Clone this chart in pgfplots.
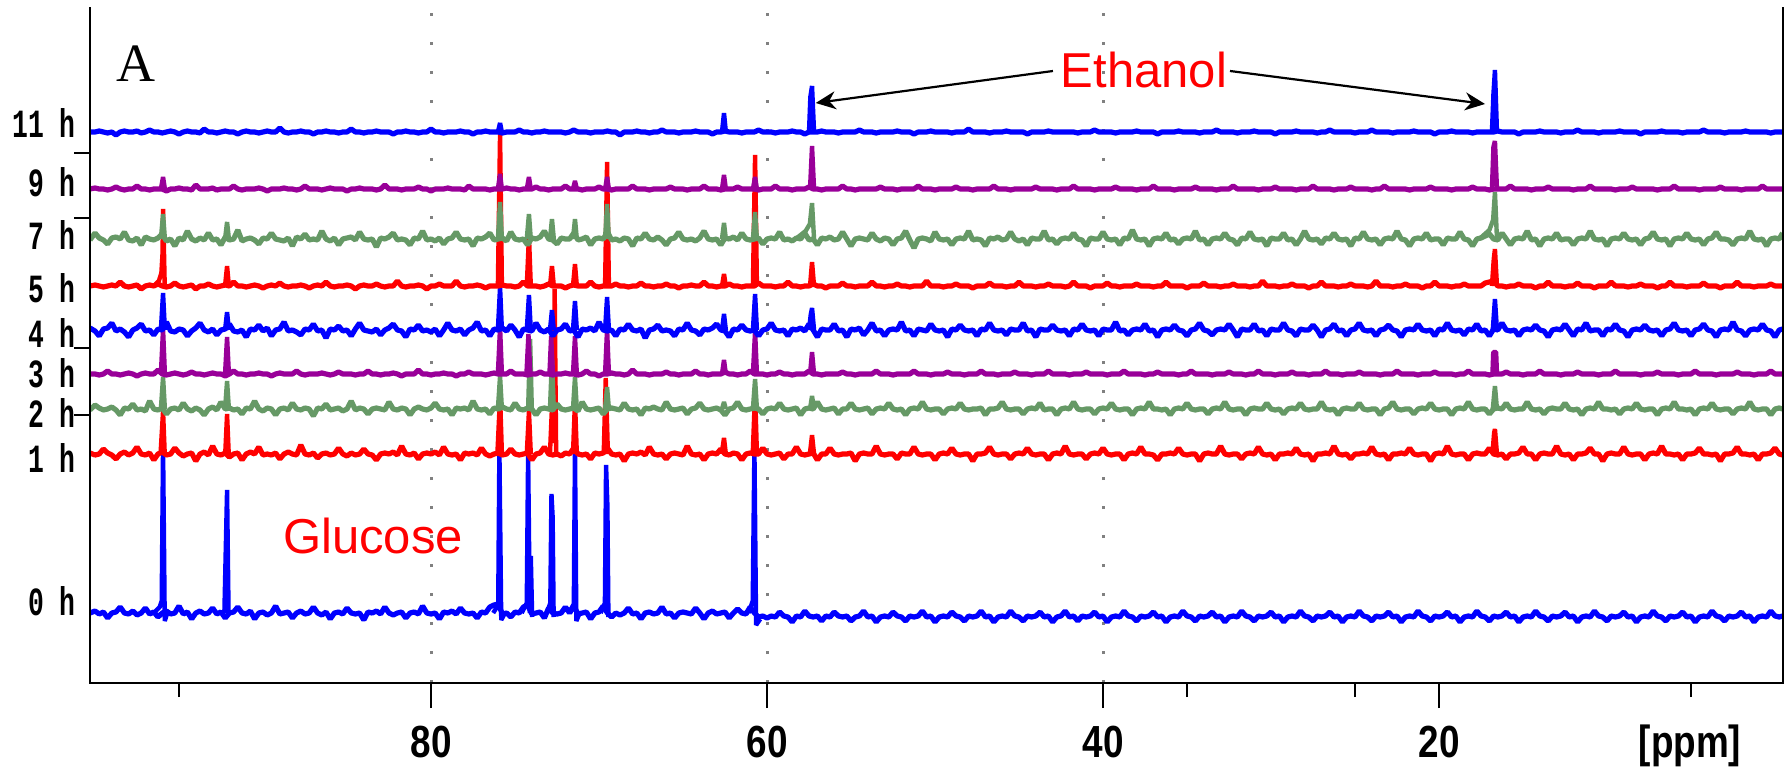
\documentclass[border=0pt]{standalone}
\usepackage{fontspec}
\setmainfont{Liberation Sans}
\newfontfamily\ticksans{Liberation Sans}[FakeStretch=0.82]
\newfontfamily\labmono{Liberation Mono}[FakeStretch=0.66]
\newfontfamily\serifA{Liberation Serif}
\usepackage{pgfplots}
\usepackage{pgfplotstable}
\pgfplotsset{compat=1.18}
\usetikzlibrary{arrows.meta}
\definecolor{tblue}{RGB}{0,0,255}
\definecolor{tred}{RGB}{255,0,0}
\definecolor{tpurple}{RGB}{153,0,153}
\definecolor{tgreen}{RGB}{102,153,102}
\definecolor{gridgray}{RGB}{128,128,128}

% noise of each spectrum, px offset from its baseline (0h,1h,2h,3h,4h,5h,7h,9h,11h)
\pgfplotstableread{
x t0 t1 t2 t3 t4 t5 t7 t9 t11
100.3 0 1 -1 0 2 0 -1 0 0
100.0 2 -1 4 0 -1 1 6 1 0
99.75 -1 0 1 -1 -6 0 1 0 1
99.5 1 5 -1 0 1 -1 -1 0 0
99.25 -5 1 0 3 2 0 -5 -1 -1
99.0 0 -1 2 0 7 1 1 0 0
98.75 1 -5 -1 0 -1 0 2 2 -3
98.5 6 0 -6 -1 1 4 0 0 0
98.25 0 2 1 0 -2 0 7 -1 1
98.0 -1 -1 0 1 -7 -1 -1 0 0
97.75 2 1 5 0 0 0 -2 0 0
97.5 -2 7 -1 -2 2 1 1 3 1
97.25 0 0 0 0 6 -3 -6 0 -1
97.0 5 -1 -2 1 -1 0 2 0 0
96.75 -1 1 8 0 0 1 0 -1 2
96.5 1 -6 0 0 -5 0 -1 0 0
96.25 -4 0 -1 4 1 2 1 0 0
96.0 0 2 1 0 0 0 5 0 -1
95.75 2 -1 -5 -1 8 -1 -2 -2 0
95.5 -1 0 0 0 -1 0 0 0 1
95.25 0 6 1 1 -2 3 -7 0 0
95.0 7 1 -1 0 1 0 1 1 -2
94.75 -1 -2 6 -1 0 -1 -1 0 0
94.5 1 0 0 0 -6 0 8 0 1
94.25 -6 1 -2 2 -1 1 0 -1 0
94.0 0 -7 1 0 2 -3 -2 4 0
93.75 2 0 -1 0 7 0 1 0 -1
93.5 -1 2 -6 -1 0 0 -1 0 3
93.25 0 -1 0 0 -2 2 6 0 0
93.0 5 8 2 1 1 0 -1 1 0
92.75 -1 0 -1 0 -5 -1 0 -1 -1
92.5 1 -1 7 0 0 0 -6 0 0
92.25 -5 1 0 -2 1 1 2 0 1
92.0 0 -3 1 0 6 0 -1 0 0
91.75 1 0 -1 3 -1 4 0 3 0
91.5 6 1 0 0 -2 0 9 0 -2
91.25 0 -6 -5 0 0 0 -2 -1 0
91.0 -1 0 1 -1 -7 -1 0 0 1
90.75 2 2 0 0 1 0 1 0 0
90.5 -6 0 8 0 0 1 -1 0 0
90.25 0 7 0 1 5 0 -5 1 -1
90.0 1 -1 -2 0 -1 -2 1 0 0
89.75 -2 0 1 0 2 0 0 -2 1
89.5 0 -1 0 -2 -6 1 6 0 0
89.25 7 1 -6 0 0 0 0 0 0
89.0 -1 -5 0 1 1 3 -1 0 4
88.75 0 0 1 0 8 0 -2 1 0
88.5 1 2 -1 0 -1 -1 1 0 -1
88.25 -5 0 6 0 0 0 -7 0 0
88.0 0 -1 0 3 -2 0 2 -1 0
87.75 2 9 -1 0 -5 1 0 0 1
87.5 -1 0 1 -1 1 0 5 3 0
87.25 0 -1 0 0 0 -2 -1 0 0
87.0 6 1 -7 0 6 0 0 0 -2
86.75 0 -4 1 0 -1 1 -1 0 0
86.5 -2 0 0 1 0 0 8 -1 0
86.25 1 1 5 0 -8 4 0 0 1
86.0 -6 -1 -1 -1 1 0 -2 1 0
85.75 0 0 0 0 0 -1 1 0 0
85.5 1 6 1 2 4 0 -6 0 -1
85.25 -1 0 -2 0 -1 0 0 0 0
85.0 5 -2 0 0 0 1 1 -2 0
84.75 0 1 8 0 -6 0 2 0 3
84.5 -1 -1 -1 -1 1 -3 -1 0 0
84.25 0 0 1 0 7 0 7 1 0
84.0 -7 5 0 0 0 1 0 0 -1
83.75 1 0 -5 3 -1 0 -1 0 0
83.5 0 -1 0 0 -2 0 0 0 0
83.25 2 -6 1 0 1 2 -8 -1 1
83.0 -1 0 0 -1 -5 0 1 0 0
82.75 6 1 -1 0 0 -1 0 4 0
82.5 0 0 7 0 2 0 2 0 0
82.25 -2 2 0 1 6 0 6 0 -2
82.0 0 -1 -1 0 0 5 -1 0 0
81.75 1 8 1 -2 -1 0 0 -1 0
81.5 -5 0 0 0 -7 -1 -1 0 1
81.25 0 -1 -6 0 1 0 -6 0 0
81.0 1 1 0 0 0 0 1 0 0
80.75 -1 -5 2 4 5 1 0 2 -1
80.5 7 0 0 0 -1 0 8 0 0
80.25 0 1 -1 0 0 -3 -1 0 0
80.0 -1 0 1 -1 -2 0 0 -2 3
79.75 0 2 6 0 1 0 -2 0 0
79.5 -6 -1 0 0 -6 2 1 0 0
79.25 1 7 -1 1 0 0 -5 0 -1
79.0 0 0 0 0 7 0 0 1 0
78.75 2 -1 -6 0 0 0 1 0 0
78.5 -1 0 1 -2 -1 5 7 0 0
78.25 5 -6 0 0 1 0 0 0 1
78.0 0 1 1 0 -5 -1 -1 -1 0
77.75 -1 0 -1 2 0 0 0 3 0
77.5 0 1 8 0 2 0 -7 0 -2
77.25 -5 -1 0 0 8 1 1 0 0
77.0 1 6 -1 0 -1 0 0 0 0
76.75 0 0 0 -1 0 -2 2 0 1
76.5 6 -2 -5 0 -6 0 6 -1 0
76.25 8 0 1 1 1 0 -1 0 0
76.0 9 1 0 0 0 0 0 0 0
75.75 -1 -1 2 0 2 1 1 0 -1
75.5 0 0 0 0 -1 0 -2 1 0
75.25 -4 5 -1 3 5 0 7 0 0
75.0 1 0 6 0 0 -1 0 0 0
74.75 0 -1 0 0 -7 0 -1 -1 2
74.5 6 0 -1 0 1 4 0 0 0
74.25 8 1 1 -1 0 0 -6 0 0
74.0 -1 -6 0 0 -1 0 1 0 -1
73.75 0 0 -6 0 7 0 0 2 0
73.5 1 1 0 2 0 -1 2 0 0
73.25 -5 7 1 0 -2 0 8 0 1
73.0 5 0 0 0 1 2 0 -1 0
72.75 0 -1 -1 -1 -6 0 -1 0 0
72.5 -1 0 5 0 0 0 -5 0 0
72.25 0 -2 0 0 1 0 1 0 0
72.0 6 1 -1 1 6 -2 0 3 -1
71.75 0 0 0 0 -1 0 0 0 0
71.5 7 6 1 0 0 1 6 0 2
71.25 -1 0 -2 -1 -7 0 -1 0 0
71.0 0 -1 7 0 1 0 0 -1 0
70.75 1 0 0 3 0 0 2 0 0
70.5 -6 -5 -1 0 2 4 -6 0 -1
70.25 0 1 0 0 -1 0 0 0 0
70.0 1 0 1 -2 8 -1 1 2 0
69.75 7 1 -5 0 0 0 0 0 0
69.5 0 6 0 0 -1 0 7 0 1
69.25 -4 0 1 1 0 0 -1 -1 0
69.0 0 -1 0 0 -6 2 0 0 0
68.75 -2 0 -1 0 1 0 -2 0 -3
68.5 0 -7 6 -1 0 0 1 0 0
68.25 5 0 0 0 6 -1 0 0 0
68.0 -1 1 -1 4 0 0 -7 3 0
67.75 0 0 0 0 -1 0 1 0 1
67.5 -6 2 -6 0 1 3 0 0 0
67.25 0 -1 1 0 -8 0 6 0 0
67.0 1 7 0 -1 0 0 0 -1 -1
66.75 -1 0 2 0 1 -1 -1 0 0
66.5 0 -1 0 0 5 0 2 0 0
66.25 6 0 -1 0 -1 0 -1 0 2
66.0 -1 -5 7 2 0 2 -6 0 0
65.75 0 0 0 0 -1 0 0 2 0
65.5 -5 1 -1 0 -6 0 1 0 0
65.25 0 0 0 -1 1 -2 7 0 -1
65.0 1 -1 1 0 0 0 0 0 0
64.75 0 8 -5 0 7 0 -1 -1 0
64.5 -1 0 0 0 0 1 0 0 0
64.25 5 -1 1 3 -1 0 -2 0 1
64.0 0 0 6 0 -5 0 1 0 0
63.75 -6 -6 0 0 1 4 8 3 0
63.5 0 0 -1 -1 0 0 0 0 0
63.25 2 1 0 0 2 0 -1 0 -2
63.0 -1 0 1 0 6 -1 0 0 0
62.75 0 5 -1 0 0 0 -6 -1 0
62.5 1 0 -6 2 -1 0 1 0 1
62.25 -5 -1 0 0 -7 2 0 0 0
62.0 0 1 1 0 1 0 2 0 0
61.75 4 0 7 -1 0 0 -1 2 0
61.5 0 -6 0 0 5 -1 6 0 -1
61.25 -1 0 -1 0 0 0 0 0 0
61.0 6 1 0 3 -1 0 -1 0 0
60.75 0 0 1 0 0 0 0 0 0
60.5 -4 0 0 0 -6 3 1 -1 2
60.25 -3 6 -5 0 0 0 -5 0 0
60.0 -5 0 0 -1 1 0 0 0 0
59.75 -3 -1 1 0 7 0 1 0 0
59.5 -4 0 0 0 0 -1 0 3 -1
59.25 1 1 6 2 -1 0 7 0 0
59.0 -3 -5 0 0 0 0 -1 0 0
58.75 -4 0 -1 0 -6 4 0 0 0
58.5 -9 0 0 -1 1 0 -2 -1 1
58.25 -3 7 1 0 0 0 1 0 0
58.0 -4 0 -6 0 2 -1 0 0 0
57.75 2 -1 0 0 -1 0 6 0 -2
57.5 -3 0 1 3 6 0 -1 2 0
57.25 -4 1 0 0 0 2 0 0 0
57.0 -3 -6 7 0 -7 0 -6 0 0
56.75 -8 0 0 -1 1 0 1 -1 1
56.5 -3 0 -1 0 0 -2 0 0 0
56.25 -4 6 0 0 0 0 2 0 0
56.0 1 0 1 0 6 0 -1 0 0
55.75 -3 -1 -5 0 -1 0 0 0 -1
55.5 -4 0 0 2 0 3 7 3 0
55.25 -3 0 0 0 -7 0 0 0 0
55.0 -8 1 6 0 1 0 -7 0 0
54.75 -4 -7 0 -1 0 -1 0 -1 0
54.5 -3 0 -1 0 2 0 1 0 2
54.25 2 1 0 0 -5 0 0 0 0
54.0 -4 0 1 0 0 0 -1 0 0
53.75 -3 0 -5 0 7 4 6 0 0
53.5 -9 8 0 3 -1 0 0 0 -1
53.25 -4 0 1 0 0 0 -2 2 0
53.0 -3 -1 0 0 -6 -1 1 0 0
52.75 -4 0 6 0 0 0 0 0 0
52.5 1 0 0 -1 1 0 -6 0 0
52.25 -3 -5 -1 0 0 2 0 -1 1
52.0 -4 1 0 0 8 0 1 0 0
51.75 -8 0 -6 0 -1 0 8 0 0
51.5 -3 0 0 0 0 -1 -1 0 0
51.25 -4 7 1 3 -6 0 -9 0 -2
51.0 -3 0 0 0 1 0 0 3 0
50.75 2 -1 7 0 0 0 1 0 0
50.5 -4 0 0 0 -1 5 0 0 0
50.25 -3 0 -1 -1 6 0 -2 0 1
50.0 -9 -6 0 0 0 0 7 -1 0
49.75 -4 0 0 0 -1 0 0 0 0
49.5 -3 1 -5 0 0 -1 -1 0 0
49.25 -4 0 0 2 -7 0 0 0 0
49.0 1 6 1 0 1 0 -6 0 -1
48.75 -3 0 0 0 0 2 0 2 0
48.5 -4 -1 6 0 5 0 1 0 0
48.25 -8 0 0 -1 0 0 0 0 0
48.0 -3 0 -1 0 -1 0 8 0 3
47.75 -4 -7 0 0 0 -2 -1 -1 0
47.5 -3 0 0 0 -6 0 0 0 0
47.25 2 0 1 3 1 0 -1 0 0
47.0 -4 1 -6 0 0 0 -7 0 0
46.75 -3 7 0 0 7 3 1 0 -1
46.5 -9 0 0 0 0 0 0 3 0
46.25 -4 -1 1 -1 -1 0 2 0 0
46.0 -3 0 7 0 0 0 -1 0 0
45.75 -4 0 0 0 -5 -1 0 0 1
45.5 2 -5 -1 0 1 0 7 -1 0
45.25 -3 0 0 2 0 0 0 0 0
45.0 -4 1 0 0 0 4 -2 0 0
44.75 -8 0 -5 0 7 0 0 0 0
44.5 -3 6 0 0 -1 0 -6 0 -2
44.25 -4 0 1 -1 0 0 1 0 0
44.0 -3 -1 0 0 -7 -1 0 2 0
43.75 1 0 6 0 1 0 0 0 0
43.5 -4 0 -1 0 0 0 8 0 0
43.25 -3 -6 0 3 0 2 -1 0 1
43.0 -9 0 0 0 5 0 0 0 0
42.75 -4 1 -6 0 0 0 -5 -1 0
42.5 -3 0 0 0 -1 0 0 0 0
42.25 2 8 1 0 0 -1 1 0 0
42.0 -4 0 0 -1 -6 0 0 0 0
41.75 -3 -1 7 0 1 4 6 3 0
41.5 -8 0 0 0 0 0 0 0 -1
41.25 -3 0 -1 0 6 0 -1 0 0
41.0 -4 -5 0 2 0 0 -7 0 0
40.75 -3 0 0 0 -1 -2 1 0 0
40.5 1 1 -5 0 0 0 0 -1 2
40.25 -4 0 0 0 -6 0 0 0 0
40.0 -3 6 1 0 1 0 7 0 0
39.75 -9 0 0 -1 0 3 0 0 0
39.5 -4 -1 6 0 0 0 -1 0 0
39.25 -3 0 0 0 8 0 0 2 -1
39.0 -4 0 -1 0 -1 -1 -6 0 0
38.75 2 -6 0 3 0 0 1 0 0
38.5 -3 0 0 0 -5 0 0 0 0
38.25 -4 1 -6 0 0 0 9 0 0
38.0 -8 0 0 0 1 2 0 -1 1
37.75 -3 7 1 0 0 0 -1 0 0
37.5 -4 0 0 -1 6 0 0 0 0
37.25 -3 0 7 0 -1 0 -7 0 0
37.0 1 -1 0 0 0 -1 0 3 0
36.75 -4 -6 0 2 -7 0 1 0 -2
36.5 -3 0 -1 0 0 0 0 0 0
36.25 -9 0 0 0 1 4 6 0 0
36.0 -4 1 -6 0 0 0 -1 0 0
35.75 -3 0 0 0 5 0 0 -1 0
35.5 -4 6 1 -1 0 0 -5 0 1
35.25 2 0 0 0 -1 0 0 0 0
35.0 -3 -1 6 0 -6 -2 1 0 0
34.75 -4 0 0 3 0 0 0 0 0
34.5 -8 0 -1 0 1 0 8 2 0
34.25 -3 -7 0 0 7 0 -1 0 -1
34.0 -4 0 0 0 0 3 0 0 0
33.75 -3 1 -5 0 -1 0 -6 0 0
33.5 1 0 0 -1 -5 0 0 0 0
33.25 -4 0 1 0 0 0 1 -1 2
33.0 -3 8 0 0 1 -1 0 0 0
32.75 -9 0 7 0 0 0 6 0 0
32.5 -4 -1 0 2 6 0 0 0 0
32.25 -3 0 -1 0 0 2 -1 3 0
32.0 -4 0 0 0 -7 0 -6 0 -1
31.75 2 -5 0 0 1 0 1 0 0
31.5 -3 0 -6 -1 0 0 0 0 0
31.25 -4 1 0 0 0 -1 7 0 0
31.0 -8 0 1 0 6 0 0 0 1
30.75 -3 7 0 3 -1 0 -1 -1 0
30.5 -4 0 0 0 0 5 0 0 0
30.25 -3 -1 6 0 -6 0 -7 0 0
30.0 1 0 0 0 1 0 1 0 0
29.75 -4 -6 -1 -1 0 0 0 2 -2
29.5 -3 0 0 0 0 -1 0 0 0
29.25 -9 0 -5 0 7 0 6 0 0
29.0 -4 1 0 0 0 0 -1 0 0
28.75 -3 0 1 2 -1 2 0 0 0
28.5 -4 6 0 0 -6 0 -6 -1 1
28.25 2 0 6 0 1 0 0 0 0
28.0 -3 -1 0 0 0 0 8 0 0
27.75 -4 0 -1 -1 0 -2 0 0 0
27.5 -8 -7 0 0 5 0 -1 3 0
27.25 -3 0 0 0 0 0 0 0 -1
27.0 -4 0 7 0 -7 4 -5 0 0
26.75 -3 1 0 3 0 0 1 0 0
26.5 1 0 -1 0 1 0 0 0 2
26.25 -4 8 0 0 6 0 6 -1 0
26.0 -3 0 -6 0 -1 -1 0 0 0
25.75 -9 -1 0 -1 0 0 -1 0 0
25.5 -4 0 1 0 -6 0 0 0 0
25.25 -3 -5 0 0 0 2 -7 2 0
25.0 -4 0 0 0 1 0 1 0 -1
24.75 2 0 6 2 7 0 0 0 0
24.5 -3 1 0 0 0 0 7 0 0
24.25 -4 0 -1 0 -1 -1 0 0 0
24.0 -8 7 0 0 0 0 -1 -1 2
23.75 -3 0 0 0 -6 5 0 0 0
23.5 -4 -1 -6 -1 0 0 -6 0 0
23.25 -3 0 0 0 1 0 0 3 0
23.0 1 -6 1 0 5 0 1 0 0
22.75 -4 0 7 0 0 -1 0 0 -1
22.5 -3 0 0 3 -1 0 8 0 0
22.25 -9 1 -1 0 -7 0 0 0 0
22.0 -4 0 0 0 0 2 -1 0 0
21.75 -3 6 0 0 1 0 -7 -1 0
21.5 -4 0 -5 0 0 0 0 0 1
21.25 2 -1 0 -1 6 0 1 0 0
21.0 -3 0 1 0 0 -2 0 0 0
20.75 -4 0 0 0 -1 0 6 0 0
20.5 -8 -7 6 0 0 0 -1 2 0
20.25 -3 0 0 2 -6 4 0 0 -2
20.0 -4 1 -1 0 1 0 0 0 0
19.75 -3 0 0 0 0 0 -6 0 0
19.5 1 8 0 0 7 0 1 0 0
19.25 -4 0 -6 0 0 -1 0 -1 1
19.0 -3 -1 0 -1 -1 0 0 0 0
18.75 -9 0 1 0 0 0 7 0 0
18.5 -4 0 0 0 -5 2 0 0 0
18.25 -3 -6 7 3 1 0 -1 0 0
18.0 -4 0 0 0 0 0 -7 2 -1
17.75 2 1 -1 0 6 0 0 0 0
17.5 -3 0 0 0 -1 0 1 0 0
17.25 -4 0 0 0 0 3 3 0 0
17.0 -8 6 -5 -1 -6 4 5 -1 0
16.75 -3 0 0 0 1 5 0 0 0
16.5 -4 -1 1 0 0 0 -1 0 1
16.25 -3 0 0 0 7 0 6 0 0
16.0 1 -5 6 2 0 -1 0 0 0
15.75 -4 0 0 0 -1 0 -6 3 0
15.5 -3 0 -1 0 0 0 0 0 0
15.25 -9 1 0 0 -6 2 1 0 -2
15.0 -4 7 0 -1 0 0 0 0 0
14.75 -3 0 7 0 1 0 8 0 0
14.5 -4 0 0 0 0 0 -1 -1 0
14.25 2 -6 -1 0 5 -2 0 0 0
14.0 -3 0 0 3 0 0 -7 0 1
13.75 -4 1 -5 0 -1 0 0 0 0
13.5 -8 0 0 0 -7 4 1 2 0
13.25 -3 0 1 0 0 0 0 0 0
13.0 -4 8 0 0 1 0 6 0 0
12.75 -3 0 0 -1 0 0 -1 0 -1
12.5 1 -1 6 0 6 -1 0 0 0
12.25 -4 0 0 0 0 0 0 0 0
12.0 -3 -6 -1 0 -6 0 -6 -1 0
11.75 -9 0 0 2 1 3 0 0 2
11.5 -4 0 -6 0 0 0 1 0 0
11.25 -3 1 0 0 7 0 0 0 0
11.0 -4 6 1 0 -1 0 8 3 0
10.75 2 0 0 0 0 -2 0 0 0
10.5 -3 0 7 -1 0 0 -1 0 -1
10.25 -4 -7 0 0 -6 0 0 0 0
10.0 -8 0 0 0 1 0 -7 0 0
9.75 -3 1 -1 0 0 4 0 0 0
9.5 -4 0 0 3 6 0 1 -1 0
9.25 -3 0 -5 0 0 0 0 0 1
9.0 1 7 0 0 -1 0 6 0 0
8.75 -4 0 1 0 -7 -1 0 0 0
8.5 -3 -1 0 0 0 0 -1 2 0
8.25 -9 0 6 0 1 0 0 0 0
8.0 -4 0 0 -1 0 2 -6 0 -2
7.75 -3 -6 -1 0 5 0 0 0 0
7.5 -4 0 0 0 0 0 1 0 0
7.25 2 1 0 0 -1 0 7 0 0
7.0 -3 0 -6 2 0 -2 0 -1 0
6.75 -4 8 0 0 -6 0 -1 0 1
6.5 -8 0 1 0 0 0 0 0 0
6.25 -3 0 0 0 1 4 -7 0 0
6.0 -4 -1 7 0 7 0 0 3 0
5.75 -3 0 0 -1 0 0 1 0 0
5.5 1 -6 0 0 -1 0 0 0 -1
5.25 -4 0 -1 0 0 -1 6 0 0
5.0 -3 0 0 0 -6 0 0 0 0
4.75 -9 1 -6 3 0 0 -1 0 0
4.5 -4 6 0 0 1 0 0 -1 0
4.25 -3 0 1 0 6 3 -6 0 2
4.0 -4 0 0 0 0 0 0 0 0
3.75 2 -1 6 0 -1 0 1 0 0
3.5 -3 0 0 -1 -7 0 7 0 0
3.25 -4 -7 -1 0 0 -2 0 2 0
3.0 -8 0 0 0 1 0 0 0 -1
2.75 -3 0 0 0 0 0 -1 0 0
2.5 -4 1 -5 0 8 0 -6 0 0
2.25 -3 7 0 2 0 4 0 0 0
2.0 1 0 1 0 -1 0 1 -1 0
1.75 -4 0 0 0 -6 0 0 0 1
1.5 -3 -1 7 0 0 0 8 0 0
1.25 -9 0 0 -1 1 -1 0 0 0
1.0 -4 -6 -1 0 0 0 -1 0 0
0.75 -3 0 0 0 6 0 0 3 0
0.5 -4 0 0 0 0 0 -7 0 0
0.25 2 1 -6 3 -1 2 0 0 -1
0.0 -3 6 0 0 -7 0 1 0 0
-0.25 -4 0 1 0 0 0 0 0 0
-0.45 -3 -1 0 0 1 0 6 0 0
}\noise

\pgfplotsset{
  noise/.style={line width=2.6pt, line join=bevel, line cap=butt, mark=none},
  trace/.style={line width=2.2pt, line join=bevel, line cap=butt, mark=none, unbounded coords=jump}}

\begin{document}
\begin{tikzpicture}
\begin{axis}[
  name=main,
  scale only axis, width=846.5pt, height=337.5pt,
  x dir=reverse, xmin=-0.476, xmax=100.30, ymin=0, ymax=675,
  axis line style={draw=none},
  clip mode=individual,
  xtick={80,60,40,20}, minor xtick={95,35,25,5},
  xtick pos=left, ytick=\empty, xticklabels={,,,,},
  tick align=outside, major tick length=12.5pt, minor tick length=7pt,
  tick style={line width=1.2pt, black},
]
% dotted grid lines
\draw[gridgray, line width=1.5pt, dash pattern=on 1.5pt off 13pt] (axis cs:80,0) -- (axis cs:80,675);
\draw[gridgray, line width=1.5pt, dash pattern=on 1.5pt off 13pt] (axis cs:60,0) -- (axis cs:60,675);
\draw[gridgray, line width=1.5pt, dash pattern=on 1.5pt off 13pt] (axis cs:40,0) -- (axis cs:40,675);

% 0 h
\addplot[noise, tblue] table[x=x, y expr=\thisrow{t0}+70] {\noise};
\addplot[trace, tblue] coordinates {
(96.5,70)(96.15,76)(96.03,82)(95.95,238)(95.85,62)(95.7,70) (nan,nan)
(92.3,70)(92.14,193)(92.05,70) (nan,nan)
(76.3,70)(76.0,78)(75.93,235)(75.82,63)(75.6,70) (nan,nan)
(74.6,70)(74.3,80)(74.22,230)(74.12,70)(74.06,127)(73.98,66) (nan,nan)
(73.1,70)(72.9,80)(72.83,189)(72.76,166)(72.70,66) (nan,nan)
(71.8,70)(71.5,79)(71.43,235)(71.35,62)(71.2,68) (nan,nan)
(69.9,70)(69.65,80)(69.58,218)(69.50,177)(69.44,66) (nan,nan)
(61.1,70)(60.85,82)(60.75,235)(60.65,58)(60.4,64)
};
% 1 h
\addplot[noise, tred] table[x=x, y expr=\thisrow{t1}+229] {\noise};
\addplot[trace, tred] coordinates {
(96.1,229)(95.95,272)(95.85,229) (nan,nan)
(92.25,229)(92.14,269)(92.04,229) (nan,nan)
(76.05,229)(75.89,287)(75.78,229) (nan,nan)
(74.3,229)(74.17,272)(74.06,229) (nan,nan)
(72.92,229)(72.80,276)(72.72,240)(72.64,394)(72.55,229) (nan,nan)
(71.55,229)(71.43,282)(71.32,229) (nan,nan)
(69.72,229)(69.60,305)(69.47,229) (nan,nan)
(62.7,229)(62.56,245)(62.45,229) (nan,nan)
(60.85,229)(60.71,291)(60.6,229) (nan,nan)
(57.45,229)(57.32,248)(57.2,229) (nan,nan)
(16.82,229)(16.72,250)(16.67,254)(16.55,229)
};
% 2 h
\addplot[noise, tgreen] table[x=x, y expr=\thisrow{t2}+274] {\noise};
\addplot[trace, tgreen] coordinates {
(96.08,274)(95.95,306)(95.84,274) (nan,nan)
(92.26,274)(92.14,302)(92.03,274) (nan,nan)
(76.02,274)(75.89,307)(75.78,274) (nan,nan)
(74.22,274)(74.10,344)(74.0,274) (nan,nan)
(72.92,274)(72.80,324)(72.69,274) (nan,nan)
(71.55,274)(71.43,306)(71.32,274) (nan,nan)
(69.64,274)(69.52,296)(69.41,274) (nan,nan)
(62.68,274)(62.56,281)(62.45,274) (nan,nan)
(60.84,274)(60.71,304)(60.60,274) (nan,nan)
(57.44,274)(57.32,287)(57.2,274) (nan,nan)
(16.8,274)(16.67,297)(16.55,274)
};
% 3 h
\addplot[noise, tpurple] table[x=x, y expr=\thisrow{t3}+309] {\noise};
\addplot[trace, tpurple] coordinates {
(96.08,309)(95.95,354)(95.84,309) (nan,nan)
(92.26,309)(92.14,346)(92.03,309) (nan,nan)
(76.02,309)(75.89,356)(75.78,309) (nan,nan)
(74.32,309)(74.20,349)(74.09,309) (nan,nan)
(72.95,309)(72.85,347)(72.74,309) (nan,nan)
(71.55,309)(71.43,347)(71.32,309) (nan,nan)
(69.64,309)(69.52,354)(69.41,309) (nan,nan)
(62.68,309)(62.56,323)(62.45,309) (nan,nan)
(60.84,309)(60.71,352)(60.60,309) (nan,nan)
(57.44,309)(57.32,331)(57.2,309) (nan,nan)
(16.82,309)(16.77,331)(16.6,331)(16.55,309)
};
% 4 h
\addplot[noise, tblue] table[x=x, y expr=\thisrow{t4}+353] {\noise};
\addplot[trace, tblue] coordinates {
(96.08,353)(95.95,390)(95.84,353) (nan,nan)
(92.26,353)(92.14,371)(92.03,353) (nan,nan)
(76.02,353)(75.89,396)(75.78,353) (nan,nan)
(74.3,353)(74.17,388)(74.06,353) (nan,nan)
(72.92,353)(72.80,373)(72.69,353) (nan,nan)
(71.55,353)(71.43,382)(71.32,353) (nan,nan)
(69.64,353)(69.52,386)(69.41,353) (nan,nan)
(62.68,353)(62.56,369)(62.45,353) (nan,nan)
(60.84,353)(60.71,389)(60.60,353) (nan,nan)
(57.5,353)(57.4,368)(57.32,375)(57.2,353) (nan,nan)
(16.8,353)(16.67,384)(16.55,353)
};
% 5 h
\addplot[noise, tred] table[x=x, y expr=\thisrow{t5}+397] {\noise};
\addplot[trace, tred] coordinates {
(96.5,397)(96.2,402)(96.05,410)(95.98,430)(95.95,474)(95.85,397) (nan,nan)
(92.26,397)(92.14,417)(92.03,397) (nan,nan)
(76.02,397)(75.89,550)(75.78,397) (nan,nan)
(74.3,397)(74.17,447)(74.06,397) (nan,nan)
(72.92,397)(72.80,417)(72.69,397) (nan,nan)
(71.55,397)(71.43,419)(71.32,397) (nan,nan)
(69.64,397)(69.52,521)(69.41,397) (nan,nan)
(62.68,397)(62.56,409)(62.45,397) (nan,nan)
(60.84,397)(60.71,528)(60.60,397) (nan,nan)
(57.44,397)(57.32,421)(57.2,397) (nan,nan)
(16.85,397)(16.74,424)(16.67,434)(16.55,397)
};
% 7 h
\addplot[noise, tgreen] table[x=x, y expr=\thisrow{t7}+444] {\noise};
\addplot[trace, tgreen] coordinates {
(96.08,444)(95.95,469)(95.84,444) (nan,nan)
(92.26,444)(92.14,461)(92.03,444) (nan,nan)
(76.02,444)(75.89,481)(75.78,444) (nan,nan)
(74.3,444)(74.17,469)(74.06,444) (nan,nan)
(72.92,444)(72.80,464)(72.69,444) (nan,nan)
(71.55,444)(71.43,464)(71.32,444) (nan,nan)
(69.64,444)(69.52,479)(69.41,444) (nan,nan)
(62.68,444)(62.56,460)(62.45,444) (nan,nan)
(60.84,444)(60.71,471)(60.60,444) (nan,nan)
(58.3,444)(57.7,452)(57.45,459)(57.32,480)(57.2,444) (nan,nan)
(17.6,444)(17.0,453)(16.78,463)(16.67,491)(16.55,444)
};
% 9 h
\addplot[noise, tpurple] table[x=x, y expr=\thisrow{t9}+494] {\noise};
\addplot[trace, tpurple] coordinates {
(96.08,494)(95.95,506)(95.84,494) (nan,nan)
(76.02,494)(75.89,509)(75.78,494) (nan,nan)
(74.3,494)(74.17,506)(74.06,494) (nan,nan)
(71.55,494)(71.43,502)(71.32,494) (nan,nan)
(69.64,494)(69.52,506)(69.41,494) (nan,nan)
(62.68,494)(62.56,508)(62.45,494) (nan,nan)
(60.84,494)(60.71,506)(60.60,494) (nan,nan)
(57.44,494)(57.32,537)(57.2,494) (nan,nan)
(16.85,494)(16.76,536)(16.67,542)(16.55,494)
};
% 11 h
\addplot[noise, tblue] table[x=x, y expr=\thisrow{t11}+551] {\noise};
\addplot[trace, tblue] coordinates {
(76.02,551)(75.89,560)(75.78,551) (nan,nan)
(62.68,551)(62.56,570)(62.45,551) (nan,nan)
(57.5,551)(57.42,586)(57.32,597)(57.2,551) (nan,nan)
(16.85,551)(16.76,589)(16.67,613)(16.55,551)
};

% y labels and ticks
\foreach \yb/\lab in {545/11 h,486/9 h,433/7 h,381/5 h,336/4 h,296/3 h,256/2 h,211/1 h,68/0 h}{
  \edef\tmp{\noexpand\node[anchor=base east, inner sep=0pt, xshift=-7pt, font=\noexpand\labmono\noexpand\bfseries\noexpand\fontsize{20}{20}\noexpand\selectfont] at (axis cs:100.30,\yb) {\lab};}\tmp
}
\foreach \yt in {530,465,335,268}{
  \edef\tmp{\noexpand\draw[line width=1.2pt] (axis cs:100.30,\yt) -- ++(-4pt,0);}\tmp
}
% x tick labels
\foreach \xt in {80,60,40,20}{
  \edef\tmp{\noexpand\node[anchor=base, inner sep=0pt, font=\noexpand\ticksans\noexpand\bfseries\noexpand\fontsize{22.5}{22.5}\noexpand\selectfont] at ([yshift=-37pt]axis cs:\xt,0) {\xt};}\tmp
}
\node[anchor=base, inner sep=0pt, font=\ticksans\bfseries\fontsize{22.5}{22.5}\selectfont] at ([yshift=-37pt]axis cs:5.06,0) {[ppm]};
% annotations
\node[anchor=base, inner sep=0pt, font=\serifA\fontsize{27}{27}\selectfont] at (axis cs:97.56,601) {A};
\node[anchor=base, inner sep=0pt, text=tred, font=\fontsize{24.5}{24.5}\selectfont] at (axis cs:37.56,595) {Ethanol};
\node[anchor=base, inner sep=0pt, text=tred, font=\fontsize{24.5}{24.5}\selectfont] at (axis cs:83.45,130) {Glucose};
\draw[line width=1.1pt, -{Stealth[length=10pt,width=9pt]}] (axis cs:42.98,612) -- (axis cs:57.10,580);
\draw[line width=1.1pt, -{Stealth[length=10pt,width=9pt]}] (axis cs:32.44,612) -- (axis cs:17.26,579);
\end{axis}
\draw[line width=1.3pt, line cap=rect] (main.north west) -- (main.south west) -- (main.south east) -- (main.north east);
\pgfresetboundingbox
\path[use as bounding box] ([shift={(-45pt,-41.5pt)}]main.south west) rectangle ([shift={(3.5pt,4pt)}]main.north east);
\end{tikzpicture}
\end{document}
